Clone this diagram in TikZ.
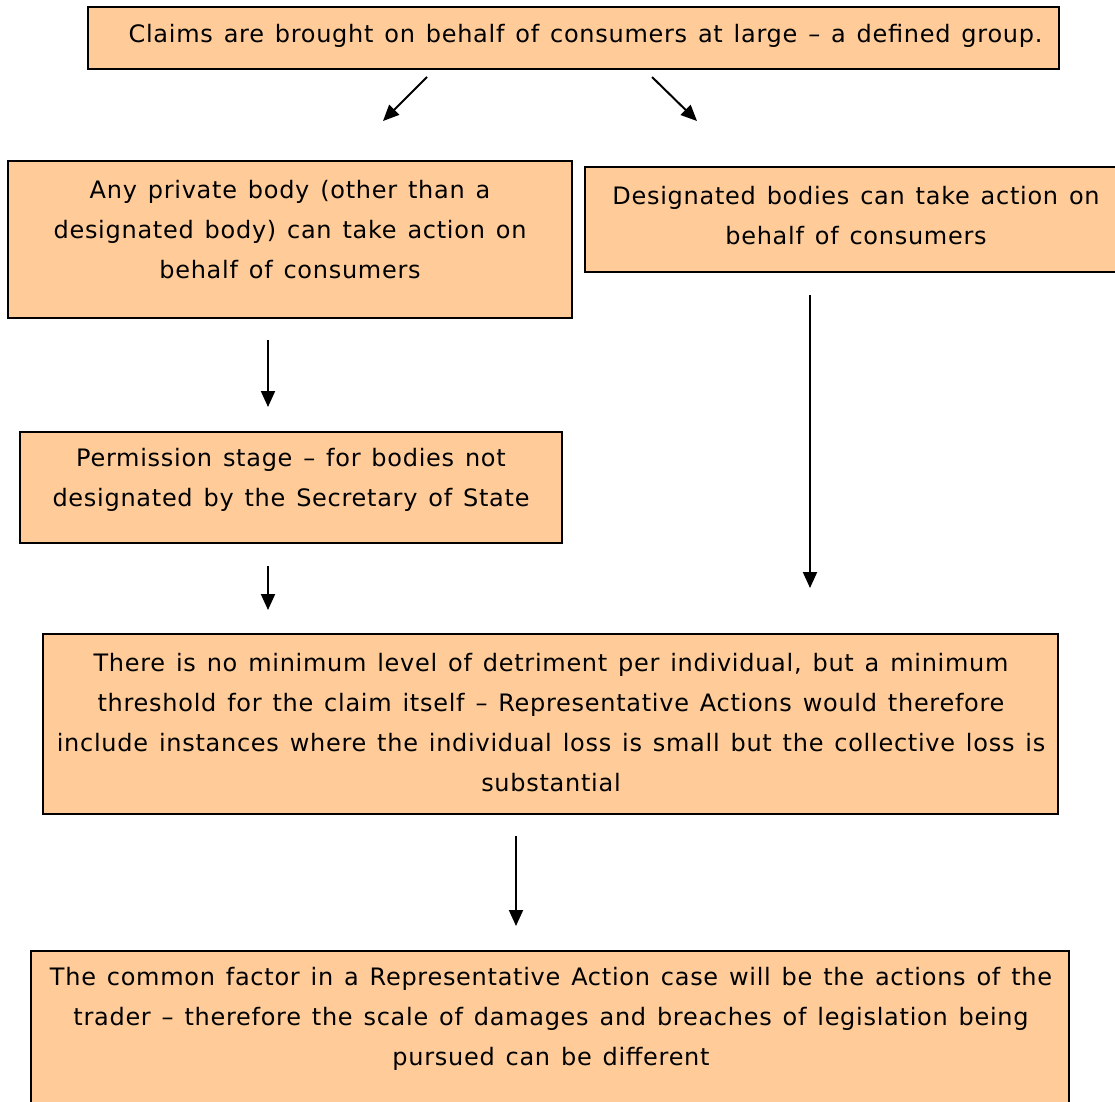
\documentclass[tikz,border=0pt]{standalone}
\usepackage{fontspec}
\setmainfont{DejaVu Sans}[LetterSpace=3,WordSpace=1.3]
\usetikzlibrary{arrows.meta}
\definecolor{peach}{HTML}{FFCC99}
\tikzset{
  box/.style={draw=black, line width=2pt, fill=peach, inner sep=0pt},
  txt/.style={align=center, font=\fontsize{24}{40}\selectfont, inner sep=0pt},
  arr/.style={line width=2pt, -{Triangle[length=16pt,width=14pt]}}
}
\begin{document}
\begin{tikzpicture}[x=1pt,y=-1pt]
\useasboundingbox (0,0) rectangle (1115,1101);
\begin{scope}
\clip (0,0) rectangle (1115,1101);
% boxes
\draw[box] (88,7) rectangle (1059,69);
\draw[box] (8,161) rectangle (572,318);
\draw[box] (585,167) rectangle (1125,272);
\draw[box] (20,432) rectangle (562,543);
\draw[box] (43,634) rectangle (1058,814);
\draw[box] (31,951) rectangle (1069,1111);
\end{scope}
% texts
\node[txt] (t1) at (585.5,36) {Claims are brought on behalf of consumers at large – a defined group.};
\node[txt] (t2) at (290,229.5) {Any private body (other than a\\designated body) can take action on\\behalf of consumers};
\node[txt] (t3) at (856,216) {Designated bodies can take action on\\behalf of consumers};
\node[txt] (t4) at (291,480) {Permission stage – for bodies not\\designated by the Secretary of State};
\node[txt] (t5) at (551,723) {There is no minimum level of detriment per individual, but a minimum\\threshold for the claim itself – Representative Actions would therefore\\include instances where the individual loss is small but the collective loss is\\substantial};
\node[txt] (t6) at (551,1019) {The common factor in a Representative Action case will be the actions of the\\trader – therefore the scale of damages and breaches of legislation being\\pursued can be different};
% arrow end points
\coordinate (a1s) at (427,77); \coordinate (a1e) at (383,121);
\coordinate (a2s) at (652,77); \coordinate (a2e) at (697,121);
\coordinate (a3s) at (268,340); \coordinate (a3e) at (268,407);
\coordinate (a4s) at (268,566); \coordinate (a4e) at (268,610);
\coordinate (a5s) at (810,295); \coordinate (a5e) at (810,588);
\coordinate (a6s) at (516,836); \coordinate (a6e) at (516,926);
\draw[arr] (a1s) -- (a1e);
\draw[arr] (a2s) -- (a2e);
\draw[arr] (a3s) -- (a3e);
\draw[arr] (a4s) -- (a4e);
\draw[arr] (a5s) -- (a5e);
\draw[arr] (a6s) -- (a6e);
\end{tikzpicture}
\end{document}
